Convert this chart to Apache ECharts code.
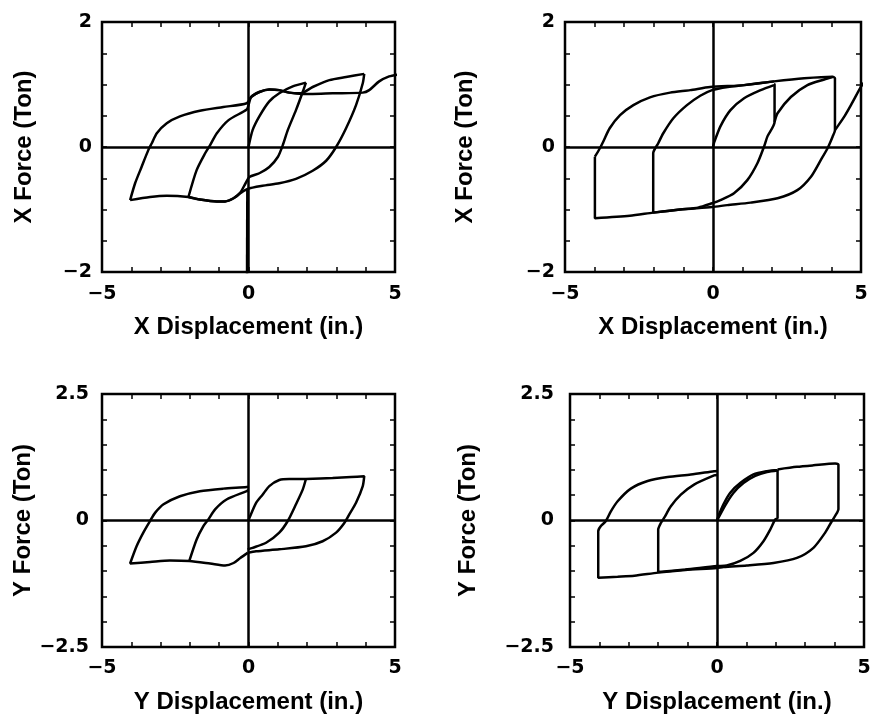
<!DOCTYPE html>
<html><head><meta charset="utf-8">
<script src="https://cdn.jsdelivr.net/npm/echarts@6/dist/echarts.min.js"></script>
<style>html,body{margin:0;padding:0;background:#fff}#c{width:874px;height:721px}</style>
</head><body><div id="c"></div>
<script>
// ---------- Tick labels ----------
const xTickValues = [-5, 0, 5];
const xTickTexts = ['−5', '0', '5'];
const yTickValuesTop = [-2, 0, 2];
const yTickTextsTop = ['−2', '0', '2'];
const yTickValuesBottom = [-2.5, 0, 2.5];
const yTickTextsBottom = ['−2.5', '0', '2.5'];
const xTitles = ['X Displacement (in.)', 'X Displacement (in.)', 'Y Displacement (in.)', 'Y Displacement (in.)'];
const yTitles = ['X Force (Ton)', 'X Force (Ton)', 'Y Force (Ton)', 'Y Force (Ton)'];

// ---------- Panel 1 (top-left) ----------
const p1Virgin = [[0,0],[0.14,0.27],[0.37,0.49],[0.71,0.73],[1.05,0.86],[1.51,0.97],[1.96,1.03]];
const p1Loop2Down = [[1.96,1.03],[1.85,0.88],[1.62,0.59],[1.34,0.27],[1.17,0.03],[1.0,-0.16],[0.71,-0.32],[0.37,-0.42],[0.03,-0.48],[-0.1,-0.58],[-0.28,-0.73],[-0.51,-0.82],[-0.8,-0.87],[-1.08,-0.87],[-1.66,-0.84],[-2.05,-0.80]];
const p1Loop2Up = [[-2.05,-0.80],[-1.77,-0.37],[-1.48,-0.10],[-1.31,0.03],[-1.08,0.22],[-0.68,0.43],[-0.06,0.60],[0.0,0.67],[0.09,0.80],[0.37,0.88],[0.71,0.92],[1.05,0.91],[1.39,0.87],[1.79,0.86],[2.19,0.96],[2.76,1.07],[3.33,1.12],[3.95,1.17]];
const p1Loop4Down = [[3.95,1.17],[3.9,1.02],[3.67,0.67],[3.33,0.30],[2.99,0.0],[2.65,-0.22],[2.19,-0.38],[1.62,-0.51],[1.05,-0.58],[0.48,-0.62],[-0.03,-0.67],[-0.28,-0.74],[-0.51,-0.82],[-0.8,-0.87],[-1.08,-0.87],[-1.66,-0.84],[-2.05,-0.80],[-2.79,-0.78],[-3.36,-0.80],[-4.04,-0.85]];
const p1Loop4Up = [[-4.04,-0.85],[-3.87,-0.58],[-3.65,-0.32],[-3.42,-0.05],[-3.30,0.06],[-3.13,0.22],[-2.79,0.38],[-2.34,0.49],[-1.66,0.58],[-0.86,0.64],[-0.06,0.70],[0.09,0.80],[0.37,0.88],[0.71,0.92],[1.05,0.91],[1.39,0.87],[1.85,0.85],[2.19,0.85],[2.87,0.86],[3.9,0.87],[4.12,0.91],[4.46,1.05],[4.8,1.13],[5.1,1.16]];
const p1Drop = [[-0.04,-0.67],[-0.05,-2.05]];

// ---------- Panel 2 (top-right) ----------
const p2Virgin = [[0,0],[0.03,0.06],[0.25,0.33],[0.59,0.59],[1.05,0.78],[1.61,0.91],[2.06,0.99]];
const p2Loop2 = [[2.06,1.01],[2.08,1.0],[2.08,0.40],[1.84,0.17],[1.72,0.0],[1.5,-0.26],[1.16,-0.53],[0.71,-0.74],[0.25,-0.85],[-0.03,-0.9],[-0.5,-0.97],[-1.11,-1.0],[-2.02,-1.05],[-2.02,-0.10],[-1.85,0.06],[-1.68,0.22],[-1.34,0.46],[-0.88,0.67],[-0.43,0.82],[-0.03,0.91],[0.5,0.96],[1.05,0.99],[2.06,1.05]];
const p2Rise = [[2.08,0.40],[2.18,0.54],[2.63,0.80],[3.19,0.99],[3.76,1.08],[4.04,1.12]];
const p2Loop4 = [[-3.99,-0.155],[-3.82,-0.02],[-3.71,0.085],[-3.49,0.30],[-3.14,0.51],[-2.69,0.67],[-2.13,0.795],[-1.45,0.87],[-0.77,0.91],[-0.1,0.96],[1.05,0.99],[2.06,1.05],[3.08,1.10],[4.04,1.125],[4.12,1.10],[4.12,0.27],[4.04,0.165],[3.87,-0.02],[3.64,-0.21],[3.31,-0.475],[2.85,-0.69],[2.18,-0.82],[1.27,-0.89],[0.48,-0.93],[-0.03,-0.96],[-1.11,-1.0],[-2.02,-1.05],[-2.81,-1.10],[-3.99,-1.14],[-3.99,-0.155]];
const p2Next = [[4.12,0.27],[4.21,0.33],[4.44,0.49],[4.66,0.67],[5.0,0.965],[5.1,1.03]];

// ---------- Panel 3 (bottom-left) ----------
const p3Right2 = [[0,0],[0.03,0.05],[0.26,0.35],[0.48,0.51],[0.71,0.68],[1.05,0.80],[1.39,0.82],[1.96,0.82],[1.85,0.61],[1.62,0.32],[1.34,-0.01],[1.05,-0.24],[0.6,-0.44],[0.14,-0.54],[-0.03,-0.57]];
const p3Right4 = [[1.96,0.82],[2.87,0.84],[3.5,0.86],[3.95,0.875],[3.90,0.68],[3.67,0.35],[3.44,0.12],[3.27,-0.05],[2.99,-0.24],[2.53,-0.41],[1.96,-0.51],[1.05,-0.57],[0.26,-0.61],[-0.03,-0.64]];
const p3Left4 = [[-0.03,-0.64],[-0.28,-0.74],[-0.51,-0.84],[-0.8,-0.89],[-1.31,-0.85],[-2.02,-0.80],[-2.68,-0.79],[-3.36,-0.82],[-4.04,-0.85],[-3.82,-0.51],[-3.59,-0.24],[-3.36,-0.01],[-3.19,0.15],[-2.9,0.32],[-2.34,0.48],[-1.66,0.58],[-0.86,0.63],[-0.06,0.66],[0,0.67]];
const p3Left2 = [[-2.02,-0.80],[-1.77,-0.375],[-1.54,-0.11],[-1.37,0.02],[-1.14,0.22],[-0.75,0.415],[-0.06,0.58],[0,0.6]];

// ---------- Panel 4 (bottom-right) ----------
const p4Virgin = [[0,0],[0.05,0.09],[0.22,0.32],[0.45,0.55],[0.79,0.74],[1.24,0.91],[1.7,0.975],[2.06,1.0]];
const p4Virgin2 = [[0.02,0.02],[0.28,0.3],[0.55,0.54],[0.9,0.74],[1.3,0.88],[1.7,0.96],[2.06,0.99]];
const p4Loop2 = [[2.06,1.0],[2.06,0.05],[1.98,0.02],[1.81,-0.18],[1.58,-0.41],[1.24,-0.64],[0.79,-0.80],[0.33,-0.89],[0,-0.90],[-1.08,-0.97],[-2.0,-1.02],[-2.0,-0.18],[-1.91,-0.05],[-1.8,0.05],[-1.57,0.28],[-1.23,0.51],[-0.78,0.71],[-0.1,0.89],[0,0.9]];
const p4Loop4 = [[2.06,1.01],[2.72,1.06],[3.28,1.09],[4.02,1.125],[4.13,1.10],[4.13,0.22],[4.08,0.15],[3.91,-0.01],[3.68,-0.24],[3.28,-0.54],[2.72,-0.74],[1.92,-0.84],[1.01,-0.89],[0.22,-0.92],[0,-0.94],[-1.08,-0.98],[-2.0,-1.03],[-2.81,-1.09],[-3.38,-1.11],[-4.04,-1.13],[-4.04,-0.21],[-3.95,-0.11],[-3.78,-0.01],[-3.61,0.18],[-3.38,0.38],[-2.93,0.63],[-2.36,0.78],[-1.68,0.86],[-0.89,0.91],[-0.1,0.975],[0,0.98]];

const panelSegments = [
  [p1Virgin, p1Loop2Down, p1Loop2Up, p1Loop4Down, p1Loop4Up, p1Drop],
  [p2Virgin, p2Loop2, p2Rise, p2Loop4, p2Next],
  [p3Right2, p3Right4, p3Left4, p3Left2],
  [p4Virgin, p4Virgin2, p4Loop2, p4Loop4]
];

// ---------- Layout ----------
const layout = [
  {left:102, top:22, width:293, height:250, yMin:-2, yMax:2, yNameGap:66, yLabelMargin:10, xNameGap:43, xLabelMargin:13},
  {left:565, top:22, width:296, height:250, yMin:-2, yMax:2, yNameGap:88, yLabelMargin:10, xNameGap:43, xLabelMargin:13},
  {left:102, top:394, width:293, height:253, yMin:-2.5, yMax:2.5, yNameGap:66, yLabelMargin:13, xNameGap:43, xLabelMargin:12},
  {left:570, top:394, width:294, height:253, yMin:-2.5, yMax:2.5, yNameGap:90, yLabelMargin:16, xNameGap:43, xLabelMargin:12}
];

function fmtFrom(vals, texts) {
  return function (v) {
    for (let i = 0; i < vals.length; i++) if (Math.abs(vals[i] - v) < 1e-9) return texts[i];
    return '';
  };
}
const tickStyle = {inside:true, length:5, lineStyle:{color:'#000', width:1.5}};
const lineOff = {show:false, onZero:false};
const labelFont = {fontFamily:'DejaVu Sans', fontWeight:'bold', fontSize:19, color:'#000'};
const nameFont = {fontFamily:'Liberation Sans', fontWeight:'bold', fontSize:24, color:'#000'};

const grid = [], xAxis = [], yAxis = [], series = [];
layout.forEach((L, g) => {
  grid.push({left:L.left, top:L.top, width:L.width, height:L.height, show:true,
    borderColor:'#000', borderWidth:2.5, backgroundColor:'transparent', containLabel:false, outerBoundsMode:'none'});
  const yVals = g < 2 ? yTickValuesTop : yTickValuesBottom;
  const yTexts = g < 2 ? yTickTextsTop : yTickTextsBottom;
  xAxis.push({gridIndex:g, type:'value', min:-5, max:5, interval:1, position:'bottom',
    axisLine:lineOff, splitLine:{show:false}, axisTick:tickStyle,
    axisLabel:Object.assign({formatter:fmtFrom(xTickValues, xTickTexts), margin:L.xLabelMargin, showMinLabel:true, showMaxLabel:true}, labelFont),
    name:xTitles[g], nameLocation:'middle', nameGap:L.xNameGap, nameTextStyle:nameFont});
  xAxis.push({gridIndex:g, type:'value', min:-5, max:5, interval:1, position:'top',
    axisLine:lineOff, splitLine:{show:false}, axisTick:tickStyle, axisLabel:{show:false}});
  yAxis.push({gridIndex:g, type:'value', min:L.yMin, max:L.yMax, interval:0.5, position:'left',
    axisLine:lineOff, splitLine:{show:false}, axisTick:tickStyle,
    axisLabel:Object.assign({formatter:fmtFrom(yVals, yTexts), margin:L.yLabelMargin, showMinLabel:true, showMaxLabel:true}, labelFont),
    name:yTitles[g], nameLocation:'middle', nameGap:L.yNameGap, nameRotate:90, nameTextStyle:nameFont});
  yAxis.push({gridIndex:g, type:'value', min:L.yMin, max:L.yMax, interval:0.5, position:'right',
    axisLine:lineOff, splitLine:{show:false}, axisTick:tickStyle, axisLabel:{show:false}});
  panelSegments[g].forEach((seg, k) => {
    const s = {type:'line', xAxisIndex:2*g, yAxisIndex:2*g, data:seg, showSymbol:false, symbol:'none',
      smooth:0.25, lineStyle:{color:'#000', width:2.5}, clip:true, silent:true, animation:false};
    if (k === 0) {
      s.markLine = {silent:true, symbol:['none','none'], label:{show:false}, animation:false,
        lineStyle:{color:'#000', width:2.5, type:'solid'}, data:[{xAxis:0}, {yAxis:0}]};
    }
    series.push(s);
  });
});

const chart = echarts.init(document.getElementById('c'), null, {renderer:'canvas'});
chart.setOption({animation:false, backgroundColor:'#fff', grid, xAxis, yAxis, series});
</script></body></html>
